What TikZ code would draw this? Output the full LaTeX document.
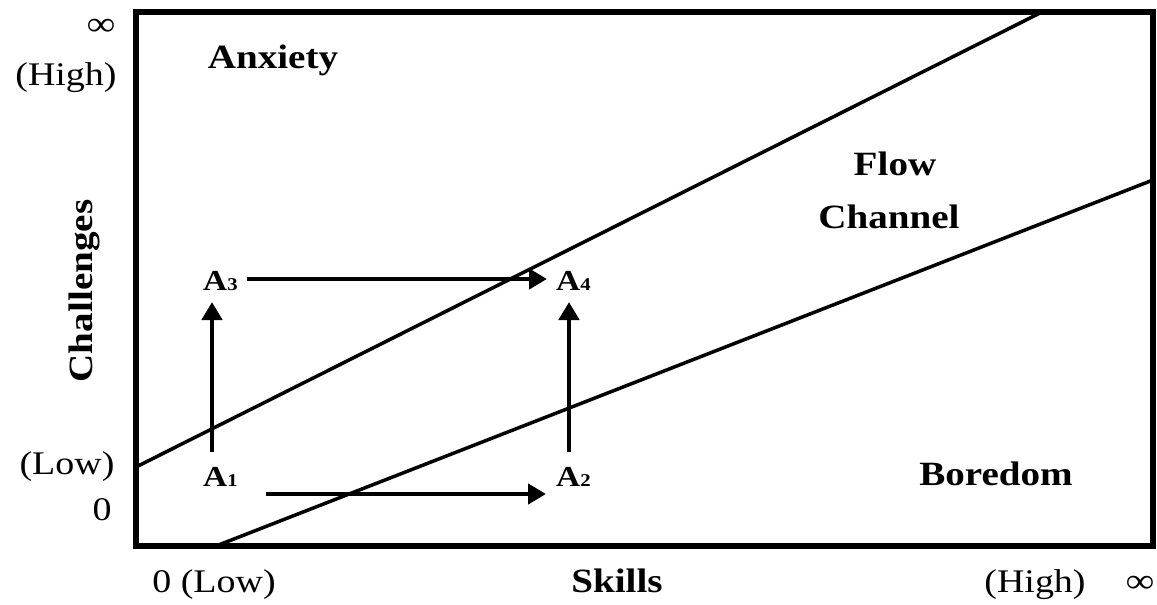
\documentclass[tikz,border=0pt]{standalone}
\usepackage{fontspec}
\setmainfont{Liberation Serif}[FakeStretch=1.15]
\usetikzlibrary{arrows.meta}
\begin{document}
\begin{tikzpicture}[x=1pt,y=-1pt,
  ax/.style={font=\fontsize{33}{38}\selectfont, inner sep=0pt, anchor=base},
  region/.style={font=\fontsize{34}{40}\selectfont\bfseries, inner sep=0pt, anchor=base},
  alab/.style={font=\fontsize{29}{32}\selectfont\bfseries, inner sep=0pt, anchor=base west},
  inf/.style={font=\fontsize{34}{36}\selectfont\bfseries, inner sep=0pt},
  bound/.style={line width=3.5pt},
  move/.style={line width=4.5pt, -{Triangle[length=18pt,width=20pt]}},
  frame/.style={line width=6pt}
]
\useasboundingbox (0,0) rectangle (1157,605);
% frame
\draw[frame] (136,12) rectangle (1153,546);
% channel boundaries
\begin{scope}
\clip (136,12) rectangle (1153,546);
\coordinate (u0) at (136,467);
\coordinate (u1) at (1042,12);
\coordinate (l0) at (216,546);
\coordinate (l1) at (1153,180);
\draw[bound] (u0) -- (u1);
\draw[bound] (l0) -- (l1);
\end{scope}
% region labels
\node[region] (anx) at (273,68) {Anxiety};
\node[region] (flow) at (895,175) {Flow};
\node[region] (chan) at (889,228) {Channel};
\node[region] (bor) at (996,485) {Boredom};
% axis labels
\node[inf] (infy) at (101,27) {∞};
\node[ax] (high) at (66,85) {(High)};
\node[ax] (low) at (67,474) {(Low)};
\node[ax] (zero) at (102,520) {0};
\node[region, rotate=90] (chal) at (92,291) {Challenges};
\node[ax] (xlow) at (214,592) {0 (Low)};
\node[region] (skills) at (617,592) {Skills};
\node[ax] (xhigh) at (1035,592) {(High)};
\node[inf] (infx) at (1140,584) {∞};
% A labels
\node[alab] (A3) at (203,290) {A{\fontsize{18}{20}\selectfont 3}};
\node[alab] (A4) at (556,290) {A{\fontsize{18}{20}\selectfont 4}};
\node[alab] (A1) at (203,486) {A{\fontsize{18}{20}\selectfont 1}};
\node[alab] (A2) at (556,486) {A{\fontsize{18}{20}\selectfont 2}};
% arrow ends
\coordinate (a3s) at (247,279);
\coordinate (a4e) at (547,279);
\coordinate (a1s) at (266,494);
\coordinate (a2e) at (546,494);
\coordinate (a1u) at (212,452);
\coordinate (a3d) at (212,302);
\coordinate (a2u) at (569,452);
\coordinate (a4d) at (569,302);
\draw[move] (a3s) -- (a4e);
\draw[move] (a1s) -- (a2e);
\draw[move] (a1u) -- (a3d);
\draw[move] (a2u) -- (a4d);
\end{tikzpicture}
\end{document}
